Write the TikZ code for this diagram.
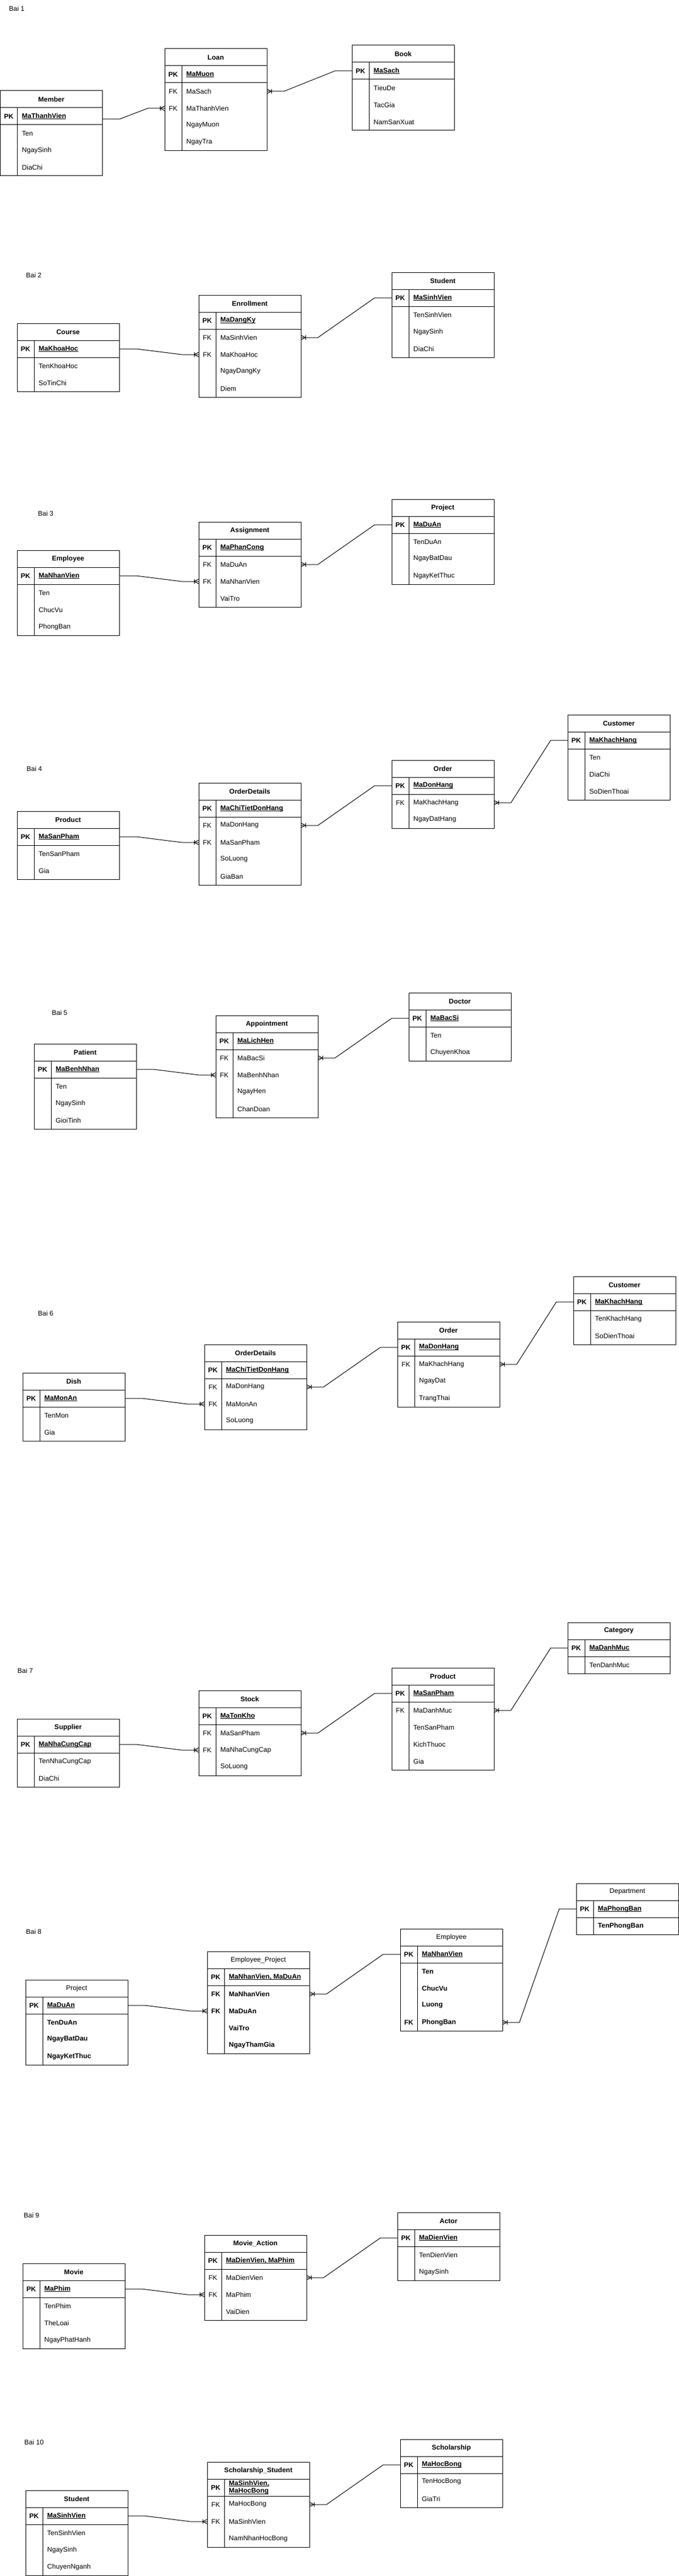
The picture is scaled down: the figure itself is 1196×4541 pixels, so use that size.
\documentclass[tikz,border=0pt]{standalone}
\usepackage{fontspec}
\setmainfont{Liberation Sans}
\usetikzlibrary{calc}

\newsavebox\ulbox
\newcommand\uline[1]{\sbox\ulbox{#1}\rlap{\rule[-2pt]{\wd\ulbox}{1pt}}\usebox\ulbox}

\newcommand\hdrfont{\bfseries}
\newcommand\attrfont{}
\newcommand\efont{\fontsize{12}{13.6}\selectfont}

\tikzset{
  ecell/.style={minimum width=180pt, minimum height=30pt, inner sep=0pt, outer sep=0pt},
  etxt/.style={inner sep=0pt, text=black},
  ename/.style={etxt, anchor=west, align=left},
  frame/.style={line width=1pt, draw=black},
  conn/.style={line width=1pt, draw=black},
  crowW/.pic={\draw[conn] (0,-4) -- (-8,0) -- (0,4); \draw[conn] (-8,-4) -- (-8,4);},
  crowE/.pic={\draw[conn] (0,-4) -- (8,0) -- (0,4); \draw[conn] (8,-4) -- (8,4);},
  bailabel/.style={etxt, font=\efont}
}

% #1 id, #2 x, #3 y, #4 title, #5 pk name, #6 number of other rows, #7 rows key/name
\newcommand\ertab[7]{%
  \node[ecell] (#1-h) at (#2+90,#3+15) {};
  \node[etxt, font=\efont\hdrfont] at (#1-h) {#4};
  \node[ecell] (#1-0) at (#2+90,#3+45) {};
  \node[etxt, font=\efont\bfseries] at (#2+15,#3+45) {PK};
  \node[ename, font=\efont\bfseries] at (#2+38,#3+45) {#5};
  \foreach[count=\i] \kk/\nn in {#7} {
    \node[ecell] (#1-\i) at (#2+90,#3+45+30*\i) {};
    \node[etxt, font=\efont\attrfont] at (#2+15,#3+45+30*\i) {\kk};
    \node[ename, font=\efont\attrfont] at (#2+38,#3+45+30*\i) {\nn};
  }
  \draw[frame] (#2,#3) rectangle (#2+180,#3+60+30*#6);
  \draw[frame] (#2,#3+30) -- (#2+180,#3+30) (#2,#3+60) -- (#2+180,#3+60)
               (#2+30,#3+30) -- (#2+30,#3+60+30*#6);
}

\newcommand\relW[2]{%
  \draw[conn] (#1.east) -- ++(30,0) -- ($(#2.west)+(-30,0)$) -- (#2.west);
  \pic at (#2.west) {crowW};}
\newcommand\relE[2]{%
  \draw[conn] (#1.west) -- ++(-30,0) -- ($(#2.east)+(30,0)$) -- (#2.east);
  \pic at (#2.east) {crowE};}

\begin{document}
\begin{tikzpicture}[x=1pt,y=-1pt]
\fill[white] (0,0) rectangle (1196,4541);
\useasboundingbox (0,0) rectangle (1196,4541);

% ---------------- Bai 1
\node[bailabel] (l1) at (29.5,15) {Bai 1};
\ertab{mem}{0.5}{160}{Member}{\uline{MaThanhVien}}{3}{/Ten, /NgaySinh, /DiaChi}
\ertab{loan}{290}{86}{Loan}{\uline{MaMuon}}{4}{FK/MaSach, FK/MaThanhVien, /NgayMuon, /NgayTra}
\ertab{book}{620}{80}{Book}{\uline{MaSach}}{3}{/TieuDe, /TacGia, /NamSanXuat}
\coordinate (memout) at ($(mem-0.east)+(0,5)$);
\relW{memout}{loan-2}
\relE{book-0}{loan-1}

% ---------------- Bai 2
\node[bailabel] (l2) at (59.5,485) {Bai 2};
\ertab{course}{30}{570}{Course}{\uline{MaKhoaHoc}}{2}{/TenKhoaHoc, /SoTinChi}
\ertab{enr}{350}{520}{Enrollment}{\uline{MaDangKy}}{4}{FK/MaSinhVien, FK/MaKhoaHoc, /NgayDangKy, /Diem}
\ertab{stu}{690}{480}{Student}{\uline{MaSinhVien}}{3}{/TenSinhVien, /NgaySinh, /DiaChi}
\relW{course-0}{enr-2}
\relE{stu-0}{enr-1}

% ---------------- Bai 3
\node[bailabel] (l3) at (80.5,905) {Bai 3};
\ertab{empc}{30}{970}{Employee}{\uline{MaNhanVien}}{3}{/Ten, /ChucVu, /PhongBan}
\ertab{asg}{350}{920}{Assignment}{\uline{MaPhanCong}}{3}{FK/MaDuAn, FK/MaNhanVien, /VaiTro}
\ertab{prjc}{690}{880}{Project}{\uline{MaDuAn}}{3}{/TenDuAn, /NgayBatDau, /NgayKetThuc}
\relW{empc-0}{asg-2}
\relE{prjc-0}{asg-1}

% ---------------- Bai 4
\node[bailabel] (l4) at (60.5,1355) {Bai 4};
\ertab{prodd}{30}{1430}{Product}{\uline{MaSanPham}}{2}{/TenSanPham, /Gia}
\ertab{odd}{350}{1380}{OrderDetails}{\uline{MaChiTietDonHang}}{4}{FK/MaDonHang, FK/MaSanPham, /SoLuong, /GiaBan}
\ertab{ordd}{690}{1340}{Order}{\uline{MaDonHang}}{2}{FK/MaKhachHang, /NgayDatHang}
\ertab{cusd}{1000}{1260}{Customer}{\uline{MaKhachHang}}{3}{/Ten, /DiaChi, /SoDienThoai}
\relW{prodd-0}{odd-2}
\relE{ordd-0}{odd-1}
\relE{cusd-0}{ordd-1}

% ---------------- Bai 5
\node[bailabel] (l5) at (105,1785) {Bai 5};
\ertab{pat}{60}{1840}{Patient}{\uline{MaBenhNhan}}{3}{/Ten, /NgaySinh, /GioiTinh}
\ertab{app}{380}{1790}{Appointment}{\uline{MaLichHen}}{4}{FK/MaBacSi, FK/MaBenhNhan, /NgayHen, /ChanDoan}
\ertab{doc}{720}{1750}{Doctor}{\uline{MaBacSi}}{2}{/Ten, /ChuyenKhoa}
\relW{pat-0}{app-2}
\relE{doc-0}{app-1}

% ---------------- Bai 6
\node[bailabel] (l6) at (80.5,2315) {Bai 6};
\ertab{dish}{40}{2420}{Dish}{\uline{MaMonAn}}{2}{/TenMon, /Gia}
\ertab{odf}{360}{2370}{OrderDetails}{\uline{MaChiTietDonHang}}{3}{FK/MaDonHang, FK/MaMonAn, /SoLuong}
\ertab{ordf}{700}{2330}{Order}{\uline{MaDonHang}}{3}{FK/MaKhachHang, /NgayDat, /TrangThai}
\ertab{cusf}{1010}{2250}{Customer}{\uline{MaKhachHang}}{2}{/TenKhachHang, /SoDienThoai}
\relW{dish-0}{odf-2}
\relE{ordf-0}{odf-1}
\relE{cusf-0}{ordf-1}

% ---------------- Bai 7
\node[bailabel] (l7) at (44.5,2945) {Bai 7};
\ertab{sup}{30}{3030}{Supplier}{\uline{MaNhaCungCap}}{2}{/TenNhaCungCap, /DiaChi}
\ertab{stk}{350}{2980}{Stock}{\uline{MaTonKho}}{3}{FK/MaSanPham, FK/MaNhaCungCap, /SoLuong}
\ertab{prodg}{690}{2940}{Product}{\uline{MaSanPham}}{4}{FK/MaDanhMuc, /TenSanPham, /KichThuoc, /Gia}
\ertab{cat}{1000}{2860}{Category}{\uline{MaDanhMuc}}{1}{/TenDanhMuc}
\relW{sup-0}{stk-2}
\relE{prodg-0}{stk-1}
\relE{cat-0}{prodg-1}

% ---------------- Bai 8
\node[bailabel] (l8) at (59.5,3405) {Bai 8};
\begin{scope}
\renewcommand\hdrfont{}
\renewcommand\attrfont{\bfseries}
\ertab{prjh}{45}{3490}{Project}{\uline{MaDuAn}}{3}{/TenDuAn, /NgayBatDau, /NgayKetThuc}
\ertab{ep}{365}{3440}{Employee\_Project}{\uline{MaNhanVien, MaDuAn}}{4}{FK/MaNhanVien, FK/MaDuAn, /VaiTro, /NgayThamGia}
\ertab{emph}{705}{3400}{Employee}{\uline{MaNhanVien}}{4}{/Ten, /ChucVu, /Luong, FK/PhongBan}
\ertab{dep}{1015}{3320}{Department}{\uline{MaPhongBan}}{1}{/TenPhongBan}
\end{scope}
\relW{prjh-0}{ep-2}
\relE{emph-0}{ep-1}
\relE{dep-0}{emph-4}

% ---------------- Bai 9
\node[bailabel] (l9) at (55.5,3905) {Bai 9};
\ertab{mov}{40}{3990}{Movie}{\uline{MaPhim}}{3}{/TenPhim, /TheLoai, /NgayPhatHanh}
\ertab{ma}{360}{3940}{Movie\_Action}{\uline{MaDienVien, MaPhim}}{3}{FK/MaDienVien, FK/MaPhim, /VaiDien}
\ertab{act}{700}{3900}{Actor}{\uline{MaDienVien}}{2}{/TenDienVien, /NgaySinh}
\relW{mov-0}{ma-2}
\relE{act-0}{ma-1}

% ---------------- Bai 10
\node[bailabel] (l10) at (60,4305) {Bai 10};
\ertab{stuj}{45}{4390}{Student}{\uline{MaSinhVien}}{3}{/TenSinhVien, /NgaySinh, /ChuyenNganh}
\ertab{ss}{365}{4340}{Scholarship\_Student}{\uline{MaSinhVien,}\\\uline{MaHocBong}}{3}{FK/MaHocBong, FK/MaSinhVien, /NamNhanHocBong}
\ertab{sch}{705}{4300}{Scholarship}{\uline{MaHocBong}}{2}{/TenHocBong, /GiaTri}
\relW{stuj-0}{ss-2}
\relE{sch-0}{ss-1}
\end{tikzpicture}
\end{document}
